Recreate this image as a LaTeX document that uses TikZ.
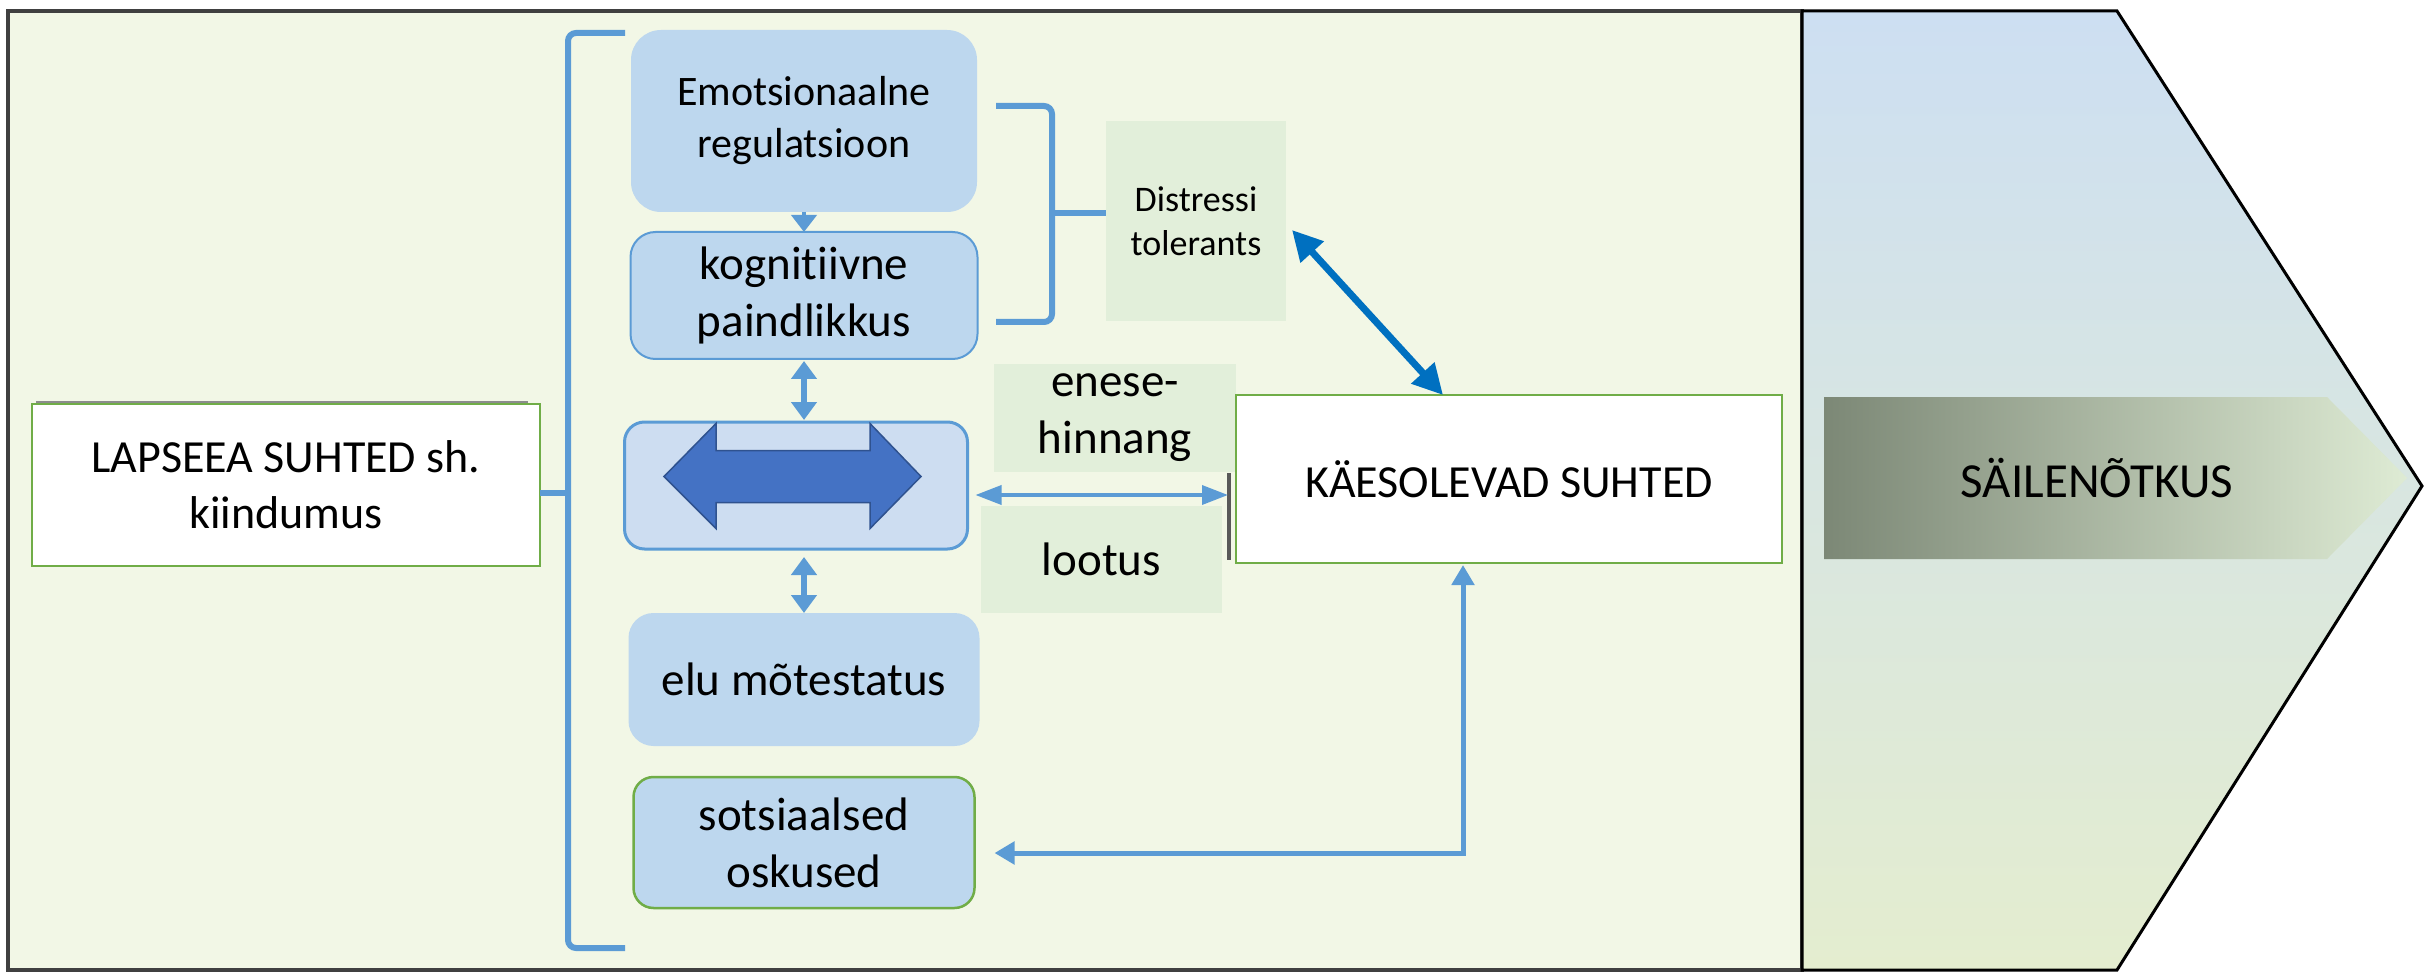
\documentclass[tikz,border=0pt]{standalone}
\usepackage{fontspec}
\setmainfont{Carlito}[Ligatures={NoCommon,NoRequired,NoContextual,NoRare}]
\usetikzlibrary{positioning,calc,arrows.meta}
\definecolor{myblue}{RGB}{91,155,213}
\definecolor{boxblue}{RGB}{189,215,238}
\definecolor{midblue}{RGB}{205,221,241}
\definecolor{bigblue}{RGB}{68,114,196}
\definecolor{darkblue}{RGB}{47,82,143}
\definecolor{diagblue}{RGB}{0,112,192}
\definecolor{mygreen}{RGB}{112,173,71}
\definecolor{palegreen}{RGB}{226,239,218}
\definecolor{panelbg}{RGB}{242,247,230}
\definecolor{topblue}{RGB}{205,223,242}
\definecolor{botgreen}{RGB}{228,237,207}
\definecolor{banleft}{RGB}{124,136,118}
\definecolor{banright}{RGB}{222,235,212}

\begin{document}
\begin{tikzpicture}[x=1pt,y=-1pt,
  bbox/.style={fill=boxblue,rounded corners=25pt,align=center,outer sep=0pt,inner sep=0pt,
    font=\fontsize{47}{57}\selectfont},
  gbox/.style={fill=palegreen,align=center,outer sep=0pt,inner sep=0pt,
    font=\fontsize{47}{57}\selectfont},
  wbox/.style={fill=white,draw=mygreen,line width=2.5pt,align=center,outer sep=0pt,inner sep=0pt,
    font=\fontsize{46}{56}\selectfont},
  brace/.style={draw=myblue,line width=6pt,rounded corners=8pt},
  varr/.style={draw=myblue,line width=6pt,>={Triangle[width=25pt,length=18pt]},<->},
  harr/.style={draw=myblue,line width=3.5pt,>={Triangle[width=19pt,length=26pt]},<->},
  earr/.style={draw=myblue,line width=5pt,>={Triangle[width=22pt,length=20pt]},<->},
  darr/.style={draw=diagblue,line width=7pt,>={Triangle[width=30pt,length=30pt]},<->},
  shadowline/.style={draw=black!45,line width=3pt}]

  \useasboundingbox (0,0) rectangle (2425,973);

  % panels
  \draw[fill=panelbg,draw=black!75,line width=4pt] (8,11) rectangle (1802,970);
  \shadedraw[top color=topblue,bottom color=botgreen,draw=black,line width=3pt]
    (1802,11) -- (2117,11) -- (2422,486) -- (2117,970) -- (1802,970) -- cycle;
  \shade[left color=banleft,right color=banright]
    (1824,397) -- (2327,397) -- (2407,478) -- (2327,559) -- (1824,559) -- cycle;
  \node[anchor=base,font=\fontsize{49}{59}\selectfont] (sail) at (2097,497) {SÄILENÕTKUS};

  % middle column
  \node[bbox,rounded corners=30pt,minimum width=346pt,minimum height=182pt,
    font=\fontsize{42}{52}\selectfont] (emo) at (804,121) {Emotsionaalne\\regulatsioon};
  \node[bbox,draw=myblue,line width=2pt,minimum width=347pt,minimum height=127pt,
    below=20pt of emo] (kog) {kognitiivne\\paindlikkus};
  \node[bbox,fill=midblue,draw=myblue,line width=3pt,rounded corners=20pt,
    minimum width=343pt,minimum height=127pt,below=63pt of kog,xshift=-8pt] (mid) {};
  \node[bbox,minimum width=351pt,minimum height=133pt,below=64pt of mid,xshift=8pt] (elu) {elu mõtestatus};
  \node[bbox,draw=mygreen,line width=2.5pt,rounded corners=20pt,minimum width=341pt,
    minimum height=131pt,below=31pt of elu] (sots) {sotsiaalsed\\oskused};

  \draw[fill=bigblue,draw=darkblue,line width=1.5pt,shift={(mid.center)}]
    (-132,-9) -- (-80,-62) -- (-80,-35) -- (74,-35) -- (74,-62) -- (125,-9)
    -- (74,43) -- (74,17) -- (-80,17) -- (-80,43) -- cycle;

  % green boxes
  \node[gbox,minimum width=180pt,minimum height=200pt,font=\fontsize{36}{44}\selectfont]
    (dist) at (1196,221) {Distressi\\tolerants};
  \node[gbox,minimum width=242pt,minimum height=108pt] (enes) at (1115,418) {enese-\\hinnang};
  \node[gbox,minimum width=241pt,minimum height=107pt] (loot) at (1101.5,559.5) {lootus};

  % white boxes
  \draw[shadowline] (36,402) -- (528,402);
  \node[wbox,minimum width=508pt,minimum height=162pt] (laps) at (286,485) {LAPSEEA SUHTED sh.\\kiindumus};
  \draw[shadowline,draw=black!65,line width=4pt] (1229,473) -- (1229,560);
  \node[wbox,minimum width=546pt,minimum height=168pt] (kaes) at (1509,479) {KÄESOLEVAD SUHTED};

  % brackets
  \coordinate (lbrmid) at (568,493);
  \draw[brace] (625,33) -- (568,33) -- (568,948) -- (625,948);
  \draw[brace,rounded corners=0pt] (lbrmid) -- (lbrmid -| laps.east);
  \coordinate (rbrmid) at (1052,213);
  \draw[brace] (996,106) -- (1052,106) -- (1052,322) -- (996,322);
  \draw[brace,rounded corners=0pt] (rbrmid) -- (rbrmid -| dist.west);

  % arrows
  \draw[draw=myblue,line width=4pt,-{Triangle[width=25pt,length=17pt]}] (emo.south) -- (kog.north);
  \draw[varr,shorten <=2pt,shorten >=2pt] (kog.south) -- (kog.south |- mid.north);
  \draw[varr,shorten <=8pt] (elu.north |- mid.south) -- (elu.north);
  \draw[harr] ($(mid.east)+(8,9.5)$) -- ($(kaes.west)+(-8,16)$);
  \draw[earr] ($(kaes.south)+(-46,2)$) |- ($(sots.east)+(20,10.5)$);
  \draw[darr] ($(dist.east)+(6,9)$) -- ($(kaes.north west)+(207,0)$);

\end{tikzpicture}
\end{document}
